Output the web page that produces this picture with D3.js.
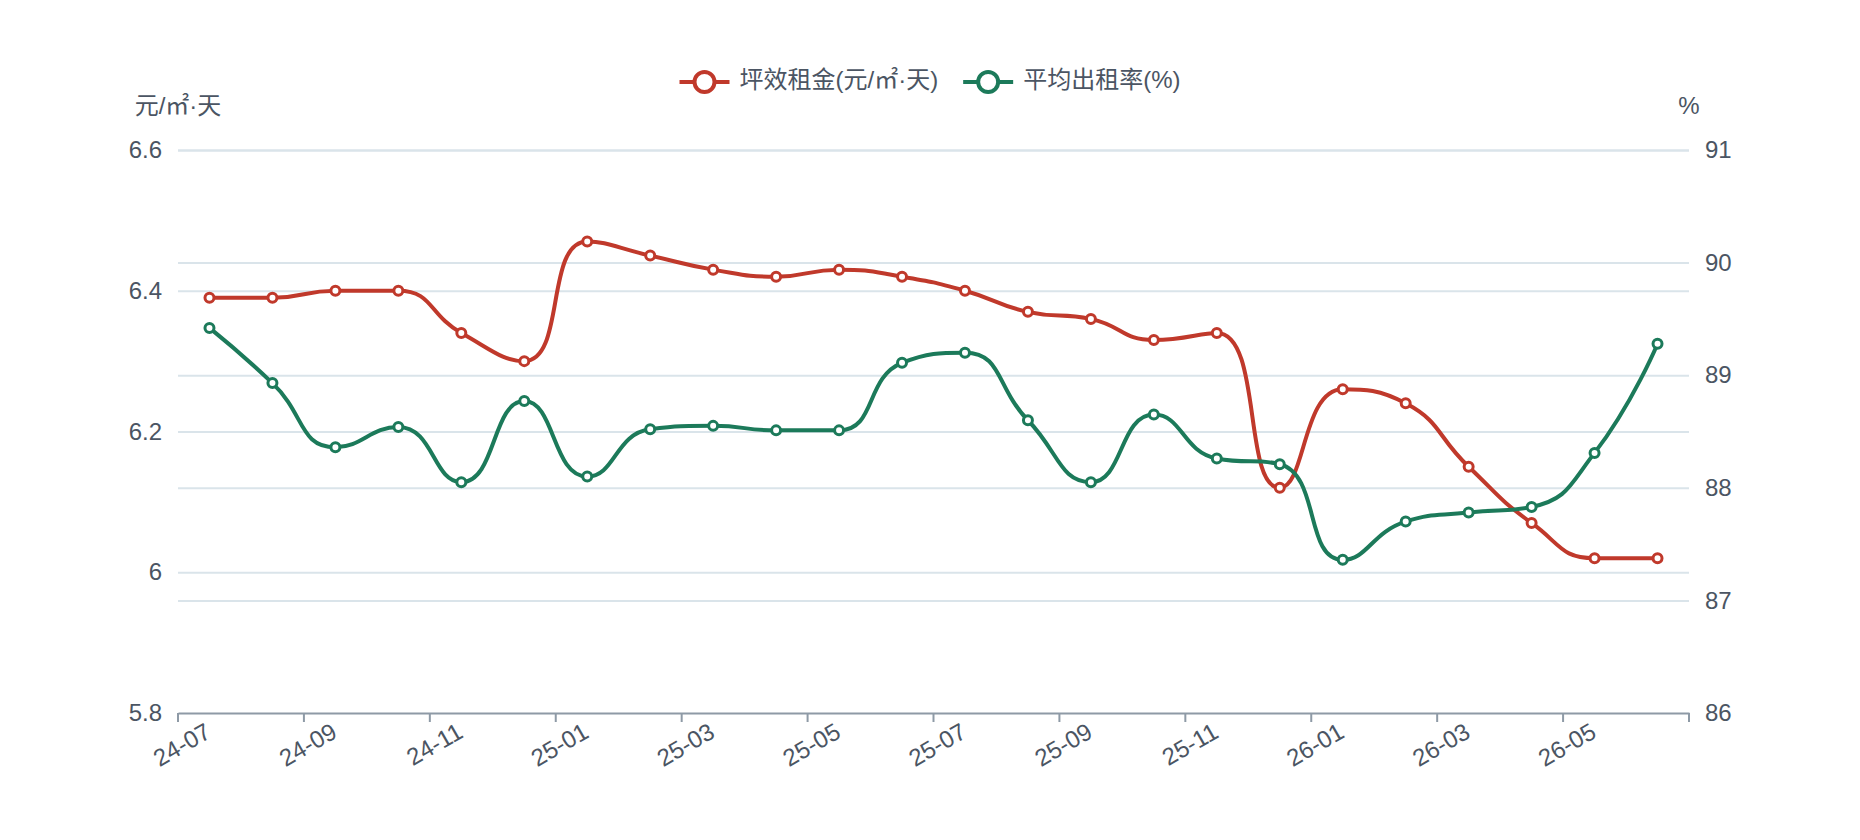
<!DOCTYPE html>
<html>

<head>
    <meta charset="utf-8">
    <title>坪效租金与平均出租率</title>
    <script src="https://cdnjs.cloudflare.com/ajax/libs/d3/7.8.5/d3.min.js"></script>
    <style>
        body { margin: 0; background: #fff; }
        text { font-family: "Liberation Sans", "Noto Sans CJK SC", sans-serif; fill: #4b5563; }
    </style>
</head>

<body>
    <script>
        var months = ["24-07", "24-08", "24-09", "24-10", "24-11", "24-12",
            "25-01", "25-02", "25-03", "25-04", "25-05", "25-06",
            "25-07", "25-08", "25-09", "25-10", "25-11", "25-12",
            "26-01", "26-02", "26-03", "26-04", "26-05", "26-06"];
        var rentValues = [6.39, 6.39, 6.40, 6.40, 6.34, 6.30, 6.47, 6.45, 6.43, 6.42, 6.43, 6.42,
            6.40, 6.37, 6.36, 6.33, 6.34, 6.12, 6.26, 6.24, 6.15, 6.07, 6.02, 6.02];
        var occValues = [89.42, 88.93, 88.36, 88.54, 88.05, 88.77, 88.10, 88.52, 88.55, 88.51, 88.51, 89.11,
            89.20, 88.60, 88.05, 88.65, 88.26, 88.21, 87.36, 87.70, 87.78, 87.83, 88.31, 89.28];
        var leftTicks = [5.8, 6, 6.2, 6.4, 6.6];
        var rightTicks = [86, 87, 88, 89, 90, 91];
        var seriesNames = ["坪效租金(元/㎡·天)", "平均出租率(%)"];
        var colors = ["#c0392b", "#1c7a5a"];

        var W = 1860, H = 840;
        var plotL = 178, plotR = 1689, plotT = 150, plotB = 713;
        var fontSize = 24;

        var svg = d3.select("body").append("svg")
            .attr("width", W)
            .attr("height", H);

        var x = d3.scaleBand().domain(months).range([plotL, plotR]).padding(0);
        var yL = d3.scaleLinear().domain([5.8, 6.6]).range([plotB, plotT]);
        var yR = d3.scaleLinear().domain([86, 91]).range([plotB, plotT]);
        var bw = x.bandwidth();

        // grid lines from both axes
        var gridL = svg.append("g")
            .attr("transform", "translate(" + plotL + ",0)")
            .call(d3.axisLeft(yL).tickValues(leftTicks).tickSize(-(plotR - plotL)).tickFormat(String).tickPadding(16));
        gridL.select(".domain").remove();
        gridL.selectAll(".tick line")
            .attr("stroke", "#dae4ea").attr("stroke-width", 2)
            .filter(function(d) { return d === 5.8; }).remove();
        gridL.selectAll(".tick text").style("font-size", fontSize + "px").attr("fill", "#4b5563");

        var gridR = svg.append("g")
            .attr("transform", "translate(" + plotR + ",0)")
            .call(d3.axisRight(yR).tickValues(rightTicks).tickSize(-(plotR - plotL)).tickFormat(String).tickPadding(16));
        gridR.select(".domain").remove();
        gridR.selectAll(".tick line")
            .attr("stroke", "#dae4ea").attr("stroke-width", 2)
            .filter(function(d) { return d === 86; }).remove();
        gridR.selectAll(".tick text").style("font-size", fontSize + "px").attr("fill", "#4b5563");

        // axis names
        svg.append("text").attr("x", plotL).attr("y", 108)
            .attr("text-anchor", "middle").attr("dominant-baseline", "middle")
            .style("font-size", fontSize + "px").text("元/㎡·天");
        svg.append("text").attr("x", plotR).attr("y", 108)
            .attr("text-anchor", "middle").attr("dominant-baseline", "middle")
            .style("font-size", fontSize + "px").text("%");

        // x axis
        var labelMonths = months.filter(function(d, i) { return i % 2 === 0; });
        var xAxis = svg.append("g")
            .attr("transform", "translate(0," + plotB + ")")
            .call(d3.axisBottom(x).tickValues(labelMonths).tickSize(0).tickSizeOuter(0));
        xAxis.select(".domain").attr("stroke", "#8e9aa6").attr("stroke-width", 2);
        xAxis.selectAll(".tick text")
            .attr("x", 0).attr("y", 0).attr("dy", null)
            .attr("text-anchor", "end")
            .attr("dominant-baseline", "middle")
            .attr("transform", "translate(0,18) rotate(-30)")
            .style("font-size", fontSize + "px")
            .attr("fill", "#4b5563");
        // ticks sit on band boundaries
        svg.append("g").selectAll("line")
            .data(labelMonths.map(function(d) { return x(d); }).concat([plotR]))
            .enter().append("line")
            .attr("x1", function(d) { return d; }).attr("x2", function(d) { return d; })
            .attr("y1", plotB).attr("y2", plotB + 9)
            .attr("stroke", "#8e9aa6").attr("stroke-width", 2);

        // echarts-like smoothing
        function smoothPath(pts, smooth) {
            var p = d3.path();
            var cpx0, cpy0, prevX, prevY;
            for (var i = 0; i < pts.length; i++) {
                var px = pts[i][0], py = pts[i][1];
                if (i === 0) {
                    p.moveTo(px, py); cpx0 = px; cpy0 = py;
                } else {
                    var cpx1, cpy1, ncx = px, ncy = py;
                    if (i === pts.length - 1) {
                        cpx1 = px; cpy1 = py;
                    } else {
                        var nx = pts[i + 1][0], ny = pts[i + 1][1];
                        var vx = nx - prevX, vy = ny - prevY;
                        var lp = Math.hypot(px - prevX, py - prevY);
                        var ln = Math.hypot(nx - px, ny - py);
                        var r = ln / (ln + lp);
                        ncx = px + vx * smooth * r; ncy = py + vy * smooth * r;
                        ncx = Math.max(Math.min(ncx, Math.max(nx, px)), Math.min(nx, px));
                        ncy = Math.max(Math.min(ncy, Math.max(ny, py)), Math.min(ny, py));
                        vx = ncx - px; vy = ncy - py;
                        cpx1 = px - vx * lp / ln; cpy1 = py - vy * lp / ln;
                        cpx1 = Math.max(Math.min(cpx1, Math.max(prevX, px)), Math.min(prevX, px));
                        cpy1 = Math.max(Math.min(cpy1, Math.max(prevY, py)), Math.min(prevY, py));
                        vx = px - cpx1; vy = py - cpy1;
                        ncx = px + vx * ln / lp; ncy = py + vy * ln / lp;
                    }
                    p.bezierCurveTo(cpx0, cpy0, cpx1, cpy1, px, py);
                    cpx0 = ncx; cpy0 = ncy;
                }
                prevX = px; prevY = py;
            }
            return p.toString();
        }

        var series = [
            { values: rentValues, y: yL, color: colors[0] },
            { values: occValues, y: yR, color: colors[1] }
        ];

        series.forEach(function(s) {
            var pts = s.values.map(function(v, i) { return [x(months[i]) + bw / 2, s.y(v)]; });
            svg.append("path")
                .attr("d", smoothPath(pts, 0.5))
                .attr("fill", "none")
                .attr("stroke", s.color)
                .attr("stroke-width", 4);
            svg.append("g").selectAll("circle")
                .data(pts)
                .enter().append("circle")
                .attr("cx", function(d) { return d[0]; })
                .attr("cy", function(d) { return d[1]; })
                .attr("r", 4.5)
                .attr("fill", "#fff")
                .attr("stroke", s.color)
                .attr("stroke-width", 3);
        });

        // legend
        var legend = svg.append("g");
        var lx = 0;
        seriesNames.forEach(function(name, i) {
            var item = legend.append("g").attr("transform", "translate(" + lx + ",0)");
            item.append("line").attr("x1", 0).attr("x2", 50).attr("y1", 0).attr("y2", 0)
                .attr("stroke", colors[i]).attr("stroke-width", 4);
            item.append("circle").attr("cx", 25).attr("cy", 0).attr("r", 10)
                .attr("fill", "#fff").attr("stroke", colors[i]).attr("stroke-width", 4);
            var t = item.append("text").attr("x", 60).attr("y", 0)
                .attr("dominant-baseline", "middle")
                .style("font-size", fontSize + "px").text(name);
            lx += 60 + t.node().getComputedTextLength() + 25;
        });
        var legendW = lx - 25;
        legend.attr("transform", "translate(" + (W / 2 - legendW / 2) + ",82)");
    </script>
</body>

</html>
